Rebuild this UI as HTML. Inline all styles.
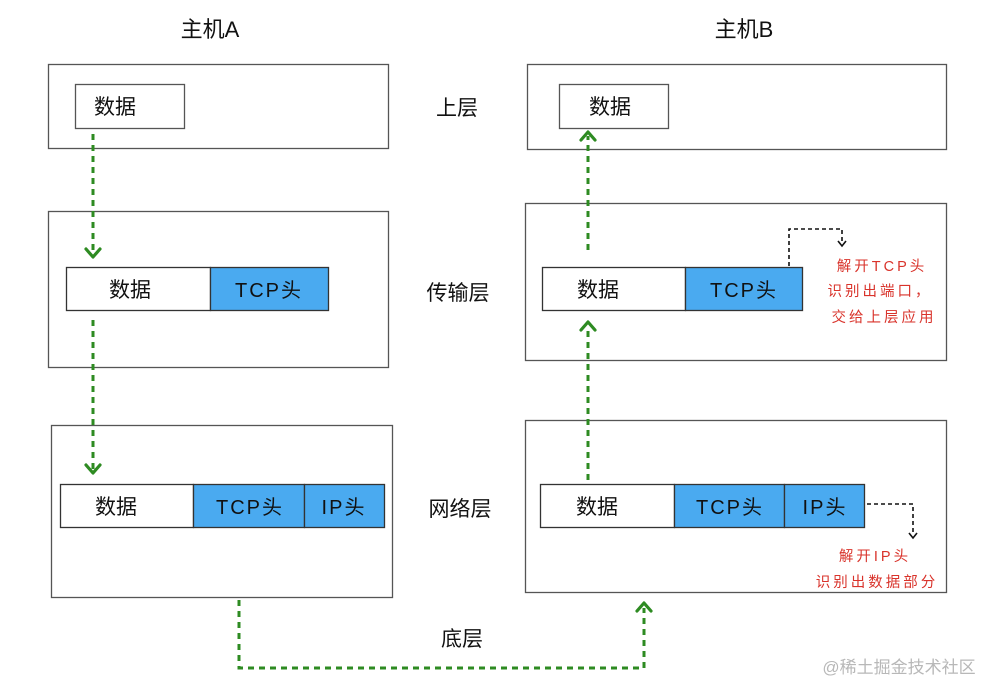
<!DOCTYPE html>
<html><head><meta charset="utf-8"><style>
html,body{margin:0;padding:0;background:#fff;}
svg{display:block;}
text{font-family:"Liberation Sans","Noto Sans CJK SC",sans-serif;}
</style></head><body>
<svg width="1000" height="698" viewBox="0 0 1000 698" xmlns="http://www.w3.org/2000/svg">
<rect width="1000" height="698" fill="#fff"/>
<!-- titles -->
<text x="210" y="37" font-size="22" text-anchor="middle" fill="#111">主机A</text>
<text x="744" y="37" font-size="22" text-anchor="middle" fill="#111">主机B</text>

<!-- Host A boxes -->
<rect x="48.5" y="64.5" width="340" height="84" fill="none" stroke="#555" stroke-width="1.3"/>
<rect x="75.5" y="84.5" width="109" height="44" fill="#fff" stroke="#555" stroke-width="1.3"/>
<text x="115" y="114" font-size="21" text-anchor="middle" fill="#111">数据</text>

<rect x="48.5" y="211.5" width="340" height="156" fill="none" stroke="#555" stroke-width="1.3"/>
<rect x="66.5" y="267.5" width="144" height="43" fill="#fff" stroke="#333" stroke-width="1.3"/>
<rect x="210.5" y="267.5" width="118" height="43" fill="#4aaaf0" stroke="#333" stroke-width="1.3"/>
<text x="130" y="297" font-size="21" text-anchor="middle" fill="#111">数据</text>
<text x="269" y="297" font-size="20" text-anchor="middle" fill="#111" letter-spacing="2">TCP头</text>

<rect x="51.5" y="425.5" width="341" height="172" fill="none" stroke="#555" stroke-width="1.3"/>
<rect x="60.5" y="484.5" width="133" height="43" fill="#fff" stroke="#333" stroke-width="1.3"/>
<rect x="193.5" y="484.5" width="111" height="43" fill="#4aaaf0" stroke="#333" stroke-width="1.3"/>
<rect x="304.5" y="484.5" width="80" height="43" fill="#4aaaf0" stroke="#333" stroke-width="1.3"/>
<text x="116" y="514" font-size="21" text-anchor="middle" fill="#111">数据</text>
<text x="250" y="514" font-size="20" text-anchor="middle" fill="#111" letter-spacing="2">TCP头</text>
<text x="344" y="514" font-size="20" text-anchor="middle" fill="#111" letter-spacing="2">IP头</text>

<!-- Host B boxes -->
<rect x="527.5" y="64.5" width="419" height="85" fill="none" stroke="#555" stroke-width="1.3"/>
<rect x="559.5" y="84.5" width="109" height="44" fill="#fff" stroke="#555" stroke-width="1.3"/>
<text x="610" y="114" font-size="21" text-anchor="middle" fill="#111">数据</text>

<rect x="525.5" y="203.5" width="421" height="157" fill="none" stroke="#555" stroke-width="1.3"/>
<rect x="542.5" y="267.5" width="143" height="43" fill="#fff" stroke="#333" stroke-width="1.3"/>
<rect x="685.5" y="267.5" width="117" height="43" fill="#4aaaf0" stroke="#333" stroke-width="1.3"/>
<text x="598" y="297" font-size="21" text-anchor="middle" fill="#111">数据</text>
<text x="744" y="297" font-size="20" text-anchor="middle" fill="#111" letter-spacing="2">TCP头</text>

<rect x="525.5" y="420.5" width="421" height="172" fill="none" stroke="#555" stroke-width="1.3"/>
<rect x="540.5" y="484.5" width="134" height="43" fill="#fff" stroke="#333" stroke-width="1.3"/>
<rect x="674.5" y="484.5" width="110" height="43" fill="#4aaaf0" stroke="#333" stroke-width="1.3"/>
<rect x="784.5" y="484.5" width="80" height="43" fill="#4aaaf0" stroke="#333" stroke-width="1.3"/>
<text x="597" y="514" font-size="21" text-anchor="middle" fill="#111">数据</text>
<text x="730" y="514" font-size="20" text-anchor="middle" fill="#111" letter-spacing="2">TCP头</text>
<text x="825" y="514" font-size="20" text-anchor="middle" fill="#111" letter-spacing="2">IP头</text>

<!-- middle labels -->
<text x="457" y="115" font-size="21" text-anchor="middle" fill="#111">上层</text>
<text x="458" y="300" font-size="21" text-anchor="middle" fill="#111">传输层</text>
<text x="460" y="516" font-size="21" text-anchor="middle" fill="#111">网络层</text>
<text x="462" y="646" font-size="21" text-anchor="middle" fill="#111">底层</text>

<!-- green dashed connectors -->
<g stroke="#2e8b22" stroke-width="3" fill="none" stroke-dasharray="6 5">
  <line x1="93" y1="134" x2="93" y2="254"/>
  <line x1="93" y1="320" x2="93" y2="470"/>
  <polyline points="239,600 239,668 644,668 644,608"/>
  <line x1="588" y1="250" x2="588" y2="136"/>
  <line x1="588" y1="480" x2="588" y2="326"/>
</g>
<g stroke="#2e8b22" stroke-width="3.2" fill="none" stroke-linecap="round" stroke-linejoin="round">
  <polyline points="86,249 93,257 100,249"/>
  <polyline points="86,465 93,473 100,465"/>
  <polyline points="637,611 644,603 651,611"/>
  <polyline points="581,140 588,132 595,140"/>
  <polyline points="581,330 588,322 595,330"/>
</g>

<!-- black dashed connectors -->
<g stroke="#111" stroke-width="1.6" fill="none" stroke-dasharray="4 3">
  <polyline points="789,266 789,229 842,229 842,242"/>
  <polyline points="867,504 913,504 913,534"/>
</g>
<g stroke="#111" stroke-width="1.6" fill="none">
  <polyline points="838,241 842,246 846,241"/>
  <polyline points="909,533 913,538 917,533"/>
</g>

<!-- red notes -->
<g fill="#d9332b" font-size="14.5" text-anchor="middle">
  <text x="882" y="271" letter-spacing="3">解开TCP头</text>
  <text x="880" y="296" letter-spacing="3">识别出端口，</text>
  <text x="884" y="322" letter-spacing="3">交给上层应用</text>
  <text x="875" y="561" letter-spacing="3">解开IP头</text>
  <text x="877" y="587" letter-spacing="3">识别出数据部分</text>
</g>

<!-- watermark -->
<text x="899" y="673" font-size="17" text-anchor="middle" fill="#b8b8b8">@稀土掘金技术社区</text>
</svg>
</body></html>
